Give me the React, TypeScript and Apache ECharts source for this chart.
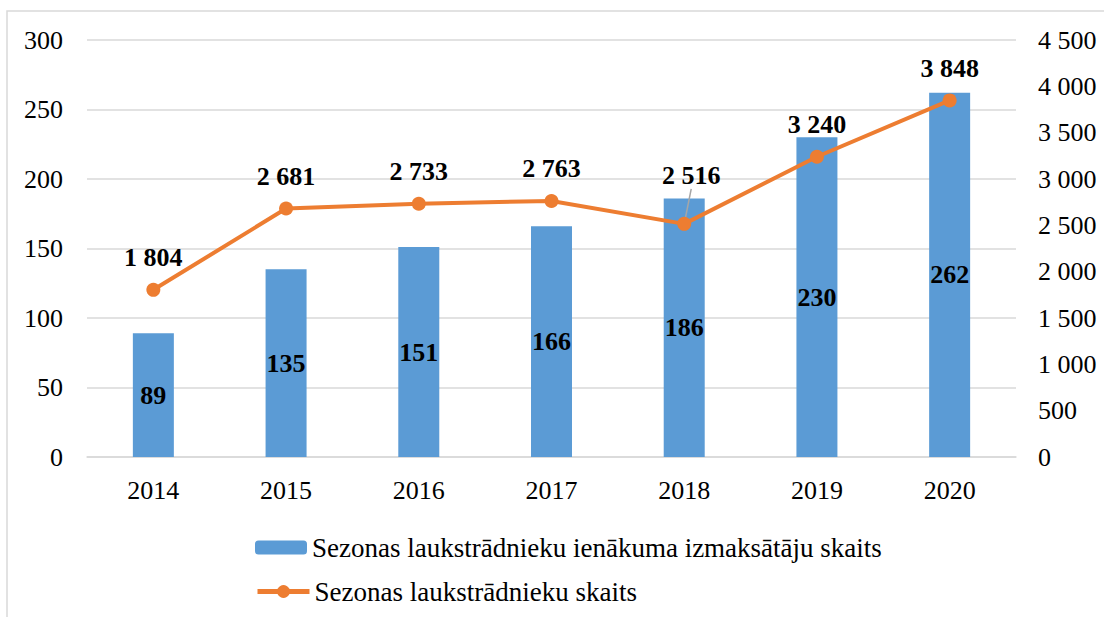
import React, { useEffect, useRef } from "react";
import * as echarts from "echarts";

const categories = ["2014", "2015", "2016", "2017", "2018", "2019", "2020"];
const payers = [89, 135, 151, 166, 186, 230, 262];
const workers = [1804, 2681, 2733, 2763, 2516, 3240, 3848];
const barName = "Sezonas laukstrādnieku ienākuma izmaksātāju skaits";
const lineName = "Sezonas laukstrādnieku skaits";

const fmt = (v: number) => String(v).replace(/\B(?=(\d{3})+(?!\d))/g, " ");
const FONT = "Liberation Serif";
const FS = 26;

export default function App() {
  const ref = useRef<HTMLDivElement>(null);
  useEffect(() => {
    const chart = echarts.init(ref.current!, null, { renderer: "svg" });
    const legendBase = {
      left: 250,
      itemWidth: 52,
      itemHeight: 14,
      textStyle: { fontFamily: FONT, fontSize: 27, color: "#000" },
    };
    chart.setOption({
      animation: false,
      textStyle: { fontFamily: FONT },
      graphic: [
        {
          type: "rect",
          shape: { x: 7, y: 11, width: 1200, height: 700 },
          style: { fill: "none", stroke: "#d9d9d9", lineWidth: 1.5 },
          silent: true,
        },
      ],
      grid: { left: 87, right: 88, top: 40, bottom: 160 },
      legend: [
        { ...legendBase, top: 529, data: [barName] },
        {
          ...legendBase,
          top: 573,
          itemHeight: 16,
          lineStyle: { width: 5 },
          data: [lineName],
        },
      ],
      xAxis: {
        type: "category",
        data: categories,
        axisTick: { show: false },
        axisLine: { lineStyle: { color: "#d9d9d9", width: 1.5 } },
        axisLabel: { fontFamily: FONT, fontSize: FS, color: "#000", margin: 20 },
      },
      yAxis: [
        {
          type: "value",
          min: 0,
          max: 300,
          interval: 50,
          axisLine: { show: false },
          axisTick: { show: false },
          splitLine: { lineStyle: { color: "#d9d9d9", width: 1.5 } },
          axisLabel: { fontFamily: FONT, fontSize: FS, color: "#000", margin: 24 },
        },
        {
          type: "value",
          min: 0,
          max: 4500,
          interval: 500,
          axisLine: { show: false },
          axisTick: { show: false },
          splitLine: { show: false },
          axisLabel: {
            fontFamily: FONT,
            fontSize: FS,
            color: "#000",
            margin: 22,
            formatter: (v: number) => fmt(v),
          },
        },
      ],
      series: [
        {
          name: barName,
          type: "bar",
          data: payers,
          barWidth: 41,
          itemStyle: { color: "#5B9BD5" },
          label: {
            show: true,
            position: "inside",
            fontFamily: FONT,
            fontSize: FS,
            fontWeight: "bold",
            color: "#000",
          },
        },
        {
          name: lineName,
          type: "line",
          yAxisIndex: 1,
          data: workers.map((v, i) =>
            i === 4 ? { value: v, labelLine: { show: true } } : { value: v }
          ),
          symbol: "circle",
          symbolSize: 14,
          lineStyle: { color: "#ED7D31", width: 4 },
          itemStyle: { color: "#ED7D31" },
          label: {
            show: true,
            position: "top",
            distance: 12,
            fontFamily: FONT,
            fontSize: FS,
            fontWeight: "bold",
            color: "#000",
            formatter: (p: any) => fmt(p.value),
          },
          labelLine: { show: false, lineStyle: { color: "#a6a6a6", width: 1.5 } },
          labelLayout: (p: any) => (p.dataIndex === 4 ? { dy: -16, dx: 7 } : {}),
        },
      ],
    });
    return () => chart.dispose();
  }, []);
  return (
    <div
      ref={ref}
      style={{ position: "absolute", left: 0, top: 0, width: 1104, height: 617 }}
    />
  );
}
